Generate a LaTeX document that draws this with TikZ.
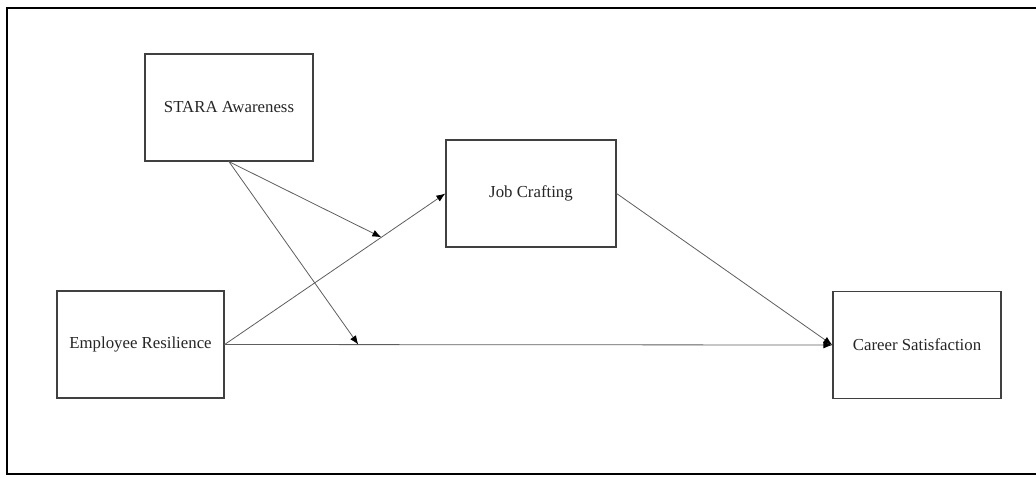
\documentclass[tikz,border=0pt]{standalone}
\usepackage{fontspec}
\setmainfont{Liberation Serif}
\usepackage{xcolor}
\usetikzlibrary{arrows.meta}
\definecolor{pmInk}{HTML}{262626}
\definecolor{pmFrame}{HTML}{404040}
\definecolor{pmLine}{HTML}{5E5E5E}
\tikzset{
  pm diagram/.style={font=\fontsize{16.8}{20}\selectfont, text=pmInk,
    line cap=round, line join=miter},
  pm box/.style={draw=pmFrame, fill=white, line width=1.3pt,
    minimum width=168pt, minimum height=107pt, inner sep=0pt, align=center},
  pm arrow/.style={-{Latex[length=9pt,width=7pt,color=black]}, draw=pmLine, line width=0.8pt}
}
\begin{document}
\begin{tikzpicture}[pm diagram,x=1pt,y=-1pt]
\useasboundingbox (0,0) rectangle (1036,477);
% outer frame, right side runs off the page
\draw[black,line width=1.2pt] (7,8) rectangle (1045,474);
% variables
\node[pm box] (stara) at (229,107.5) {STARA Awareness};
\node[pm box,minimum width=170pt] (job) at (531,193.5) {Job Crafting};
\node[pm box,minimum width=167pt] (resil) at (140.5,344.5) {Employee Resilience};
\node[pm box] (career) at (917,345) {Career Satisfaction};
% paths
\draw[pm arrow] (resil.east) -- coordinate[pos=0.71] (modA) (job.west);
\draw[pm arrow] (resil.east) -- coordinate[pos=0.22] (modB) (career.west);
\draw[pm arrow] (job.east) -- (career.west);
% moderation
\draw[pm arrow] (stara.south) -- (modA);
\draw[pm arrow] (stara.south) -- (modB);
\end{tikzpicture}
\end{document}
